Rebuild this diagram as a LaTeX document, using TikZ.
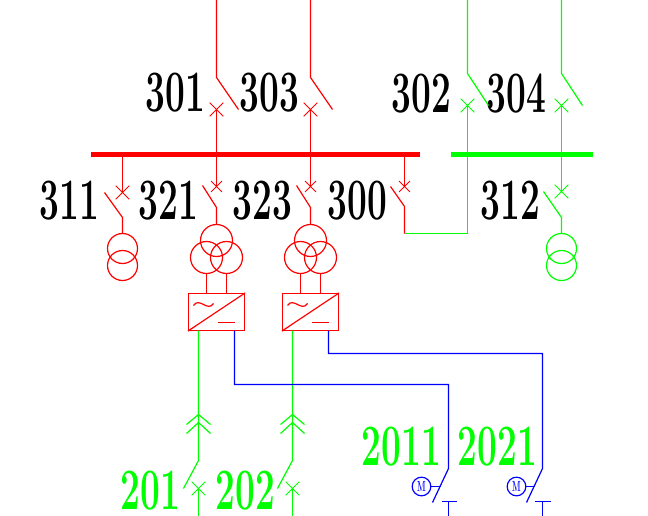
\documentclass[tikz,border=0pt]{standalone}
\usepackage{graphicx}
\usetikzlibrary{shapes.misc}
\definecolor{myred}{RGB}{255,0,0}
\definecolor{mygreen}{RGB}{0,255,0}
\definecolor{myblue}{RGB}{0,0,255}
\newcommand{\cadnum}[1]{\scalebox{.6}[1]{\fontsize{44}{44}\selectfont\bfseries #1}}
\tikzset{
  wire/.style={line width=.9pt},
  numlabel/.style={inner sep=0pt},
  brklarge/.style={draw, cross out, inner sep=0pt, minimum size=9.5pt, line width=.7pt},
  brksmall/.style={draw, cross out, inner sep=0pt, minimum size=7.5pt, line width=.7pt},
  winding/.style={draw, circle, inner sep=0pt, line width=.9pt, minimum size=22.5pt},
  winding3/.style={draw, circle, inner sep=0pt, line width=.9pt, minimum size=24pt},
  conv/.style={draw, rectangle, inner sep=0pt, line width=.9pt, minimum width=42pt, minimum height=27.75pt},
  motor/.style={draw, circle, inner sep=0pt, line width=.9pt, minimum size=14pt, text=myblue},
  bus/.style={inner sep=0pt, minimum height=3.75pt}
}
\begin{document}
\begin{tikzpicture}[x=.75pt, y=-.75pt]
    \useasboundingbox (-.5,-.5) rectangle (647.5,515.5);
    % busbars
    \node (busred) [bus, fill=myred, minimum width=246.75pt] at (255,154.5) {};
    \node (busgreen) [bus, fill=mygreen, minimum width=106.5pt] at (521.5,154.5) {};
    % labels
    \node (l301) [numlabel] at (175,92) {\cadnum{301}};
    \node (l303) [numlabel] at (269,92) {\cadnum{303}};
    \node (l302) [numlabel] at (421,93) {\cadnum{302}};
    \node (l304) [numlabel] at (516,93) {\cadnum{304}};
    \node (l311) [numlabel] at (69,200) {\cadnum{311}};
    \node (l321) [numlabel] at (168,200) {\cadnum{321}};
    \node (l323) [numlabel] at (262,200) {\cadnum{323}};
    \node (l300) [numlabel] at (357,200) {\cadnum{300}};
    \node (l312) [numlabel] at (510,200) {\cadnum{312}};
    \node (l2011) [numlabel, text=mygreen] at (401,446) {\cadnum{2011}};
    \node (l2021) [numlabel, text=mygreen] at (497,446) {\cadnum{2021}};
    \node (l201) [numlabel, text=mygreen] at (150,490) {\cadnum{201}};
    \node (l202) [numlabel, text=mygreen] at (245,490) {\cadnum{202}};
    % red side
    \begin{scope}[myred]
    \node (k301) [brklarge] at (216,109) {};
    \node (k303) [brklarge] at (310,109) {};
    \node (k311) [brklarge] at (122,192) {};
    \node (k321) [brksmall] at (216,186) {};
    \node (k323) [brksmall] at (310,186) {};
    \node (k300) [brksmall] at (404,186) {};
    \node (t311a) [winding] at (122,248) {};
    \node (t311b) [winding] at (122,265) {};
    \node (t321a) [winding3] at (216,240) {};
    \node (t321b) [winding3] at (206,257) {};
    \node (t321c) [winding3] at (226,257) {};
    \node (t323a) [winding3] at (310,240) {};
    \node (t323b) [winding3] at (300,257) {};
    \node (t323c) [winding3] at (320,257) {};
    \node (c321) [conv] at (216,311.5) {};
    \node (c323) [conv] at (310,311.5) {};
    \coordinate (top301) at (216,-1);
    \coordinate (top303) at (310,-1);
    \coordinate (f301) at (216,77);
    \coordinate (f303) at (310,77);
    \coordinate (e301) at (238,109);
    \coordinate (e303) at (332,109);
    \coordinate (f311) at (122,217);
    \coordinate (e311) at (104,192);
    \coordinate (f321) at (216,207);
    \coordinate (e321) at (202,185);
    \coordinate (f323) at (310,207);
    \coordinate (e323) at (296,185);
    \coordinate (f300) at (404,206);
    \coordinate (e300) at (390,186);
    \coordinate (tie) at (404,233);
    \draw[wire] (top301) -- (f301) -- (e301);
    \draw[wire] (top303) -- (f303) -- (e303);
    \draw[wire] (k301.center) -- (k321.center);
    \draw[wire] (k303.center) -- (k323.center);
    \draw[wire] (k311.center |- busred.center) -- (k311.center);
    \draw[wire] (k300.center |- busred.center) -- (k300.center);
    \draw[wire] (e311) -- (f311) -- (t311a.north);
    \draw[wire] (e321) -- (f321) -- (t321a.north);
    \draw[wire] (e323) -- (f323) -- (t323a.north);
    \draw[wire] (e300) -- (f300) -- (tie);
    \draw[wire] (t321b.south) -- (t321b.south |- c321.north);
    \draw[wire] (t321c.south) -- (t321c.south |- c321.north);
    \draw[wire] (t323b.south) -- (t323b.south |- c323.north);
    \draw[wire] (t323c.south) -- (t323c.south |- c323.north);
    \draw[wire] (c321.south west) -- (c321.north east);
    \draw[wire] (c323.south west) -- (c323.north east);
    \draw[wire] (193,305) .. controls (199,296) and (207,312) .. (213,303);
    \draw[wire] (287,305) .. controls (293,296) and (301,312) .. (307,303);
    \draw[wire] (217,322) -- (234,322);
    \draw[wire] (311,322) -- (328,322);
    \end{scope}
    % green side
    \begin{scope}[mygreen]
    \node (k302) [brklarge] at (467,105) {};
    \node (k304) [brklarge] at (561,105) {};
    \node (k312) [brklarge] at (561,191) {};
    \node (k201) [brklarge] at (198,488) {};
    \node (k202) [brklarge] at (292,488) {};
    \node (t312a) [winding] at (561,248) {};
    \node (t312b) [winding] at (561,265) {};
    \coordinate (top302) at (467,-1);
    \coordinate (top304) at (561,-1);
    \coordinate (f302) at (467,73);
    \coordinate (f304) at (561,73);
    \coordinate (e302) at (488,105);
    \coordinate (e304) at (582,105);
    \coordinate (f312) at (561,217);
    \coordinate (e312) at (543,191);
    \coordinate (corner) at (467,233);
    \coordinate (s201) at (198,330);
    \coordinate (s202) at (292,330);
    \coordinate (f201) at (198,460);
    \coordinate (f202) at (292,460);
    \coordinate (e201) at (183,488);
    \coordinate (e202) at (277,488);
    \coordinate (end201) at (198,517);
    \coordinate (end202) at (292,517);
    \draw[wire] (top302) -- (f302) -- (e302);
    \draw[wire] (top304) -- (f304) -- (e304);
    \draw[wire] (k302.center) -- (corner) -- (tie);
    \draw[wire] (k304.center) -- (k312.center);
    \draw[wire] (e312) -- (f312) -- (t312a.north);
    \draw[wire] (s201) -- (f201) -- (e201);
    \draw[wire] (s202) -- (f202) -- (e202);
    \draw[wire] (k201.center) -- (end201);
    \draw[wire] (k202.center) -- (end202);
    \draw[wire] (186,424) -- (198,414) -- (210,424);
    \draw[wire] (186,433) -- (198,422) -- (210,433);
    \draw[wire] (280,424) -- (292,414) -- (304,424);
    \draw[wire] (280,433) -- (292,422) -- (304,433);
    \end{scope}
    % blue side
    \begin{scope}[myblue]
    \node (m2011) [motor] at (421,486) {\scalebox{.55}[1]{\fontsize{11}{11}\selectfont\bfseries M}};
    \node (m2021) [motor] at (516,486) {\scalebox{.55}[1]{\fontsize{11}{11}\selectfont\bfseries M}};
    \coordinate (s2011) at (234,330);
    \coordinate (s2021) at (328,330);
    \coordinate (b2011) at (234,384);
    \coordinate (b2021) at (328,353);
    \coordinate (d2011) at (448,384);
    \coordinate (d2021) at (542,353);
    \coordinate (f2011) at (448,468);
    \coordinate (f2021) at (542,468);
    \coordinate (e2011) at (432,502);
    \coordinate (e2021) at (526,502);
    \coordinate (j2011) at (440,486);
    \coordinate (j2021) at (534,486);
    \coordinate (tl2011) at (441,501);
    \coordinate (tr2011) at (456,501);
    \coordinate (tl2021) at (534,501);
    \coordinate (tr2021) at (550,501);
    \coordinate (g2011) at (448,501);
    \coordinate (g2021) at (542,501);
    \coordinate (end2011) at (448,517);
    \coordinate (end2021) at (542,517);
    \draw[wire] (s2011) -- (b2011) -- (d2011) -- (f2011) -- (e2011);
    \draw[wire] (s2021) -- (b2021) -- (d2021) -- (f2021) -- (e2021);
    \draw[wire] (m2011.east) -- (j2011);
    \draw[wire] (m2021.east) -- (j2021);
    \draw[wire] (tl2011) -- (tr2011);
    \draw[wire] (tl2021) -- (tr2021);
    \draw[wire] (g2011) -- (end2011);
    \draw[wire] (g2021) -- (end2021);
    \end{scope}
    \end{tikzpicture}
\end{document}
